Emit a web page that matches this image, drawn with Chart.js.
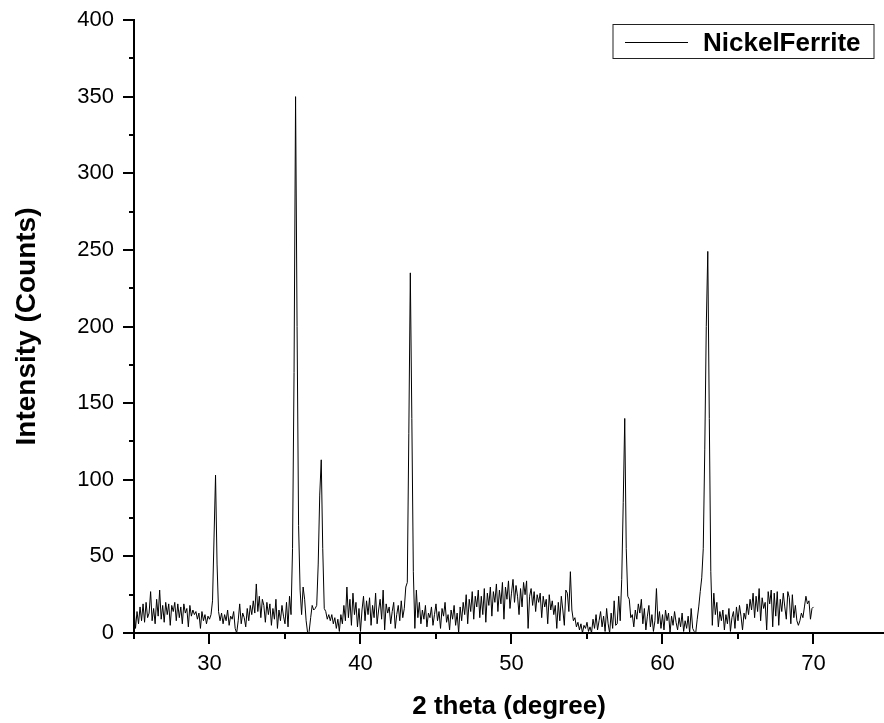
<!DOCTYPE html>
<html>
<head>
<meta charset="utf-8">
<script src="https://cdn.jsdelivr.net/npm/chart.js@4"></script>
<style>
  html, body { margin: 0; padding: 0; background: #fff; }
  #wrap { width: 884px; height: 723px; }
</style>
</head>
<body>
<div id="wrap"><canvas id="xrdChart" width="884" height="723"></canvas></div>
<script>
// ==========================
// Data
// ==========================

const seriesLabel = "NickelFerrite";
const twoThetaStart = 25;
const twoThetaStep = 0.1;

// intensity (counts), one row per degree: 25.0 .. 25.9, 26.0 .. 26.9, ...
const intensity = [
  16, 3, 14, 6, 17, 8, 19, 7, 20, 10,
  13, 27, 8, 16, 6, 22, 11, 28, 9, 18,
  7, 20, 12, 19, 5, 18, 14, 20, 8, 19,
  10, 17, 6, 19, 13, 16, 4, 18, 11, 15,
  12, 14, 9, 13, 3, 14, 8, 12, 6, 11,
  9, 12, 21, 62, 103, 45, 14, 8, 13, 6,
  12, 8, 15, 5, 11, 9, 14, 3, 0, 8,
  19, 6, 13, 10, 4, 16, 8, 18, 12, 21,
  13, 32, 14, 24, 10, 22, 18, 7, 20, 12,
  19, 5, 16, 9, 22, 3, 15, 8, 18, 11,
  6, 20, 4, 24, 12, 55, 170, 350, 200, 70,
  28, 12, 30, 22, 8, 0, 1, 10, 18, 15,
  16, 18, 45, 90, 113, 55, 16, 14, 9, 12,
  8, 12, 6, 10, 3, 9, 1, 12, 6, 18,
  8, 30, 10, 22, 5, 26, 12, 20, 4, 16,
  1, 15, 24, 8, 21, 12, 23, 5, 18, 10,
  26, 6, 15, 22, 9, 28, 2, 19, 13, 17,
  6, 14, 20, 3, 12, 18, 8, 21, 10, 16,
  30, 33, 130, 235, 140, 40, 3, 28, 10, 20,
  6, 15, 9, 18, 4, 13, 10, 17, 5, 12,
  19, 8, 14, 3, 16, 11, 20, 7, 12, 2,
  15, 9, 18, 5, 13, 0, 17, 8, 20, 12,
  25, 6, 22, 14, 27, 9, 24, 17, 28, 10,
  24, 12, 29, 7, 26, 18, 30, 11, 27, 20,
  32, 14, 28, 19, 33, 9, 30, 22, 34, 16,
  26, 35, 20, 31, 24, 12, 29, 17, 33, 25,
  34, 3, 24, 29, 18, 27, 14, 25, 20, 26,
  10, 24, 17, 22, 6, 25, 15, 21, 12, 18,
  3, 20, 8, 24, 15, 5, 28, 26, 14, 40,
  15, 8, 10, 4, 7, 2, 6, 0, 5, 3,
  7, 1, 4, 0, 9, 3, 12, 2, 8, 14,
  4, 11, 1, 16, 6, 0, 13, 3, 21, 5,
  6, 24, 8, 35, 85, 140, 55, 24, 22, 10,
  12, 4, 15, 9, 19, 13, 22, 6, 16, 2,
  11, 18, 4, 12, 1, 8, 29, 6, 14, 3,
  12, 2, 15, 8, 13, 0, 11, 5, 14, 7,
  2, 10, 4, 13, 1, 8, 3, 11, 0, 16,
  3, 1, 0, 9, 17, 27, 36, 55, 120, 200,
  249, 140, 40, 5, 26, 12, 20, 4, 14, 8,
  15, 2, 12, 6, 16, 1, 10, 14, 3, 17,
  8, 18, 11, 2, 13, 9, 19, 12, 22, 15,
  26, 10, 24, 14, 29, 8, 23, 16, 20, 2,
  27, 19, 28, 4, 26, 11, 27, 5, 22, 14,
  26, 17, 9, 27, 23, 6, 25, 10, 18, 8,
  5, 8, 13, 10, 17, 24, 19, 21, 9, 16,
  17
];

// axis ranges and ticks
const xMin = 25;
const xMax = 74.67;
const xMajorTicks = [30, 40, 50, 60, 70];
const xMinorTicks = [25, 35, 45, 55, 65];
const yMin = 0;
const yMax = 400;
const yMajorTicks = [0, 50, 100, 150, 200, 250, 300, 350, 400];
const yMinorTicks = [25, 75, 125, 175, 225, 275, 325, 375];

const xTitle = "2 theta (degree)";
const yTitle = "Intensity (Counts)";

// ==========================
// Build points
// ==========================

const points = intensity.map((v, i) => ({
  x: +(twoThetaStart + i * twoThetaStep).toFixed(1),
  y: v,
}));

const fontFamily = "'Liberation Sans', Arial, Helvetica, sans-serif";

// ==========================
// Plugins: outward ticks + boxed legend
// ==========================

const tickMarks = {
  id: "tickMarks",
  afterDraw(chart) {
    const { ctx, chartArea, scales } = chart;
    ctx.save();
    ctx.strokeStyle = "#000";
    ctx.lineWidth = 2;
    ctx.beginPath();
    const drawX = (v, len) => {
      const px = Math.round(scales.x.getPixelForValue(v));
      ctx.moveTo(px, chartArea.bottom);
      ctx.lineTo(px, chartArea.bottom + len);
    };
    const drawY = (v, len) => {
      const py = Math.round(scales.y.getPixelForValue(v));
      ctx.moveTo(chartArea.left, py);
      ctx.lineTo(chartArea.left - len, py);
    };
    xMajorTicks.forEach((v) => drawX(v, 11));
    xMinorTicks.forEach((v) => drawX(v, 6));
    yMajorTicks.forEach((v) => drawY(v, 11));
    yMinorTicks.forEach((v) => drawY(v, 5));
    ctx.stroke();
    ctx.restore();
  },
};

const boxLegend = {
  id: "boxLegend",
  afterDraw(chart) {
    const { ctx, chartArea } = chart;
    const ds = chart.data.datasets[0];
    const right = chartArea.right - 10;
    const left = right - 261;
    const top = chartArea.top + 4.5;
    const h = 34;
    ctx.save();
    ctx.strokeStyle = "#222";
    ctx.lineWidth = 1;
    ctx.fillStyle = "#fff";
    ctx.fillRect(left, top, right - left, h);
    ctx.strokeRect(left, top, right - left, h);
    const midY = Math.round(top + h / 2) + 0.5;
    ctx.strokeStyle = ds.borderColor;
    ctx.beginPath();
    ctx.moveTo(left + 12, midY);
    ctx.lineTo(left + 75, midY);
    ctx.stroke();
    ctx.fillStyle = "#000";
    ctx.font = "bold 26px " + fontFamily;
    ctx.textBaseline = "middle";
    ctx.fillText(ds.label, left + 90, midY + 1);
    ctx.restore();
  },
};

// ==========================
// Chart
// ==========================

new Chart(document.getElementById("xrdChart"), {
  type: "line",
  data: {
    datasets: [
      {
        label: seriesLabel,
        data: points,
        borderColor: "#000",
        borderWidth: 1,
        pointRadius: 0,
        fill: false,
        tension: 0,
      },
    ],
  },
  options: {
    responsive: false,
    animation: false,
    devicePixelRatio: 1,
    layout: { padding: { top: 20, right: 0, left: 0, bottom: 0 } },
    plugins: {
      legend: { display: false },
      tooltip: { enabled: false },
    },
    scales: {
      x: {
        type: "linear",
        min: xMin,
        max: xMax,
        afterFit: (scale) => {
          scale.height = 90;
          scale.paddingLeft = 0;
          scale.paddingRight = 0;
        },
        afterBuildTicks: (scale) => {
          scale.ticks = xMajorTicks.map((v) => ({ value: v }));
        },
        grid: { drawOnChartArea: false, drawTicks: false },
        border: { display: true, color: "#000", width: 2 },
        ticks: {
          autoSkip: false,
          maxRotation: 0,
          padding: 18,
          color: "#000",
          font: { family: fontFamily, size: 22 },
        },
        title: {
          display: true,
          text: xTitle,
          color: "#000",
          padding: { top: 0, bottom: 1 },
          font: { family: fontFamily, size: 26, weight: "bold" },
        },
      },
      y: {
        min: yMin,
        max: yMax,
        afterFit: (scale) => {
          scale.width = 134;
          scale.paddingTop = 0;
          scale.paddingBottom = 0;
        },
        afterBuildTicks: (scale) => {
          scale.ticks = yMajorTicks.map((v) => ({ value: v }));
        },
        grid: { drawOnChartArea: false, drawTicks: false },
        border: { display: true, color: "#000", width: 2 },
        ticks: {
          autoSkip: false,
          padding: 20,
          color: "#000",
          font: { family: fontFamily, size: 22 },
        },
        title: {
          display: true,
          text: yTitle,
          color: "#000",
          padding: { top: 10, bottom: 0 },
          font: { family: fontFamily, size: 28, weight: "bold" },
        },
      },
    },
  },
  plugins: [tickMarks, boxLegend],
});
</script>
</body>
</html>
